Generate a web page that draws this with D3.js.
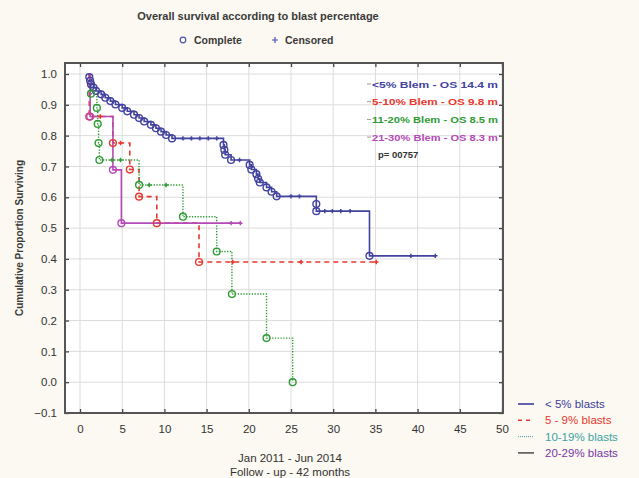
<!DOCTYPE html>
<html>
<head>
<meta charset="utf-8">
<script src="https://cdn.jsdelivr.net/npm/d3@7"></script>
<style>
  body { margin: 0; background: #fbf9f1; }
  text { font-family: "Liberation Sans", Arial, sans-serif; }
</style>
</head>
<body>
<script>
const width = 639
const height = 478

// survival data: [months, proportion] at each complete event
const blueEvents = [[1.1, 0.99], [1.2, 0.978], [1.3, 0.967], [1.6, 0.956], [1.9, 0.945], [2.5, 0.934],
  [3.0, 0.923], [3.6, 0.912], [4.2, 0.901], [5.0, 0.89], [5.6, 0.879], [6.4, 0.868], [7.0, 0.857],
  [7.6, 0.846], [8.4, 0.835], [9.0, 0.824], [9.6, 0.813], [10.2, 0.802], [10.9, 0.791],
  [17.0, 0.77], [17.1, 0.754], [17.2, 0.738], [17.9, 0.721],
  [20.1, 0.705], [20.3, 0.69], [20.9, 0.675], [21.1, 0.66], [21.3, 0.648], [22.1, 0.632], [22.7, 0.618], [23.3, 0.603],
  [28.0, 0.578], [28.0, 0.555], [34.3, 0.41]]
const blueCensored = [12.2, 13.2, 14.2, 15.2, 16.2, 18.9, 25.0, 26.0, 29.0, 29.9, 30.9, 32.0, 39.2, 42.1]

const redEvents = [[1.1, 0.862], [3.9, 0.776], [5.9, 0.69], [7.0, 0.602], [9.1, 0.516], [14.1, 0.39]]
const redCensored = [2.4, 4.8, 18.1, 26.2, 35.1]

const greenEvents = [[1.3, 0.936], [2.0, 0.89], [2.1, 0.838], [2.2, 0.776], [2.3, 0.721], [7.0, 0.64],
  [12.2, 0.537], [16.2, 0.424], [18.0, 0.286], [22.1, 0.143], [25.2, 0.0]]
const greenCensored = [3.8, 4.8, 8.2, 10.2]

const purpleEvents = [[1.2, 0.862], [3.9, 0.689], [4.9, 0.516]]
const purpleCensored = [17.9, 19.0]

const groupNames = ['<5% Blem  -  OS 14.4 m', '5-10% Blem  -  OS 9.8 m', '11-20% Blem  -  OS 8.5 m', '21-30% Blem  -  OS 8.3 m']
const groupColors = ['#42429f', '#e8372c', '#2f9a35', '#b44ab8']
const pValue = 'p= 00757'

const legendNames = ['< 5% blasts', '5 - 9% blasts', '10-19% blasts', '20-29% blasts']
const legendColors = ['#3d3d9c', '#e8372c', '#3aa3a3', '#7a34a8']

const xTicks = [0, 5, 10, 15, 20, 25, 30, 35, 40, 45, 50]
const yTicks = [-0.1, 0, 0.1, 0.2, 0.3, 0.4, 0.5, 0.6, 0.7, 0.8, 0.9, 1.0]

const frame = {left: 65, right: 503, top: 63, bottom: 413}

const x = d3.scaleLinear().domain([0, 50]).range([80, 502])
const y = d3.scaleLinear().domain([-0.1, 1.0]).range([413, 74])

const svg = d3.select('body').append('svg')
  .attr('width', width)
  .attr('height', height)

svg.append('rect')
  .attr('x', frame.left).attr('y', frame.top)
  .attr('width', frame.right - frame.left).attr('height', frame.bottom - frame.top)
  .attr('fill', '#ffffff')

// grid
svg.append('g').selectAll('line').data(xTicks).join('line')
  .attr('x1', d => x(d)).attr('x2', d => x(d))
  .attr('y1', frame.top).attr('y2', frame.bottom)
  .attr('stroke', '#dcdcdc').attr('stroke-width', 1)
svg.append('g').selectAll('line').data(yTicks).join('line')
  .attr('x1', frame.left).attr('x2', frame.right)
  .attr('y1', d => y(d)).attr('y2', d => y(d))
  .attr('stroke', '#dcdcdc').attr('stroke-width', 1)

// axes
const xAxis = svg.append('g')
  .attr('transform', `translate(0,${frame.bottom})`)
  .call(d3.axisBottom(x).tickValues(xTicks).tickSize(-4).tickPadding(12))
const xAxisTop = svg.append('g')
  .attr('transform', `translate(0,${frame.top})`)
  .call(d3.axisTop(x).tickValues(xTicks).tickSize(-4).tickFormat(''))
const yAxis = svg.append('g')
  .attr('transform', `translate(${frame.left},0)`)
  .call(d3.axisLeft(y).tickValues(yTicks).tickSize(-4).tickPadding(8).tickFormat(d3.format('.1f')))
const yAxisRight = svg.append('g')
  .attr('transform', `translate(${frame.right},0)`)
  .call(d3.axisRight(y).tickValues(yTicks).tickSize(-4).tickFormat(''))

;[xAxis, xAxisTop, yAxis, yAxisRight].forEach(g => {
  g.select('.domain').remove()
  g.selectAll('.tick line').attr('stroke', '#444').attr('stroke-width', 1.3)
  g.selectAll('.tick text').attr('fill', '#333').attr('font-size', 11.5)
})

svg.append('rect')
  .attr('x', frame.left).attr('y', frame.top)
  .attr('width', frame.right - frame.left).attr('height', frame.bottom - frame.top)
  .attr('fill', 'none').attr('stroke', '#555').attr('stroke-width', 2)

// curves
const groups = [
  {events: blueEvents, censored: blueCensored, color: groupColors[0], dash: null, width: 1.6},
  {events: redEvents, censored: redCensored, color: groupColors[1], dash: '5,4', width: 1.6},
  {events: greenEvents, censored: greenCensored, color: groupColors[2], dash: '1.3,1.5', width: 1.4},
  {events: purpleEvents, censored: purpleCensored, color: groupColors[3], dash: null, width: 1.6}
]

function survivalAt(events, t) {
  let s = 1
  events.forEach(e => { if (e[0] <= t) s = e[1] })
  return s
}

const line = d3.line().x(d => x(d[0])).y(d => y(d[1])).curve(d3.curveStepAfter)

groups.forEach(g => {
  const last = g.events[g.events.length - 1]
  const end = Math.max(last[0], d3.max(g.censored))
  const pts = [[g.events[0][0], 1.0]].concat(g.events).concat([[end, survivalAt(g.events, end)]])
  svg.append('path')
    .attr('d', line(pts))
    .attr('fill', 'none')
    .attr('stroke', g.color)
    .attr('stroke-width', g.width)
    .attr('stroke-dasharray', g.dash)
})

groups.forEach(g => {
  svg.append('g').selectAll('circle').data(g.events).join('circle')
    .attr('cx', d => x(d[0])).attr('cy', d => y(d[1]))
    .attr('r', 3.4)
    .attr('fill', 'none')
    .attr('stroke', g.color).attr('stroke-width', 1.4)
  svg.append('g').selectAll('path').data(g.censored).join('path')
    .attr('d', d => {
      const cx = x(d), cy = y(survivalAt(g.events, d))
      return `M${cx - 2.2},${cy}H${cx + 2.2}M${cx},${cy - 2.2}V${cy + 2.2}`
    })
    .attr('stroke', g.color).attr('stroke-width', 1.5)
})

// titles
svg.append('text')
  .attr('x', 258).attr('y', 20)
  .attr('text-anchor', 'middle')
  .attr('font-size', 11).attr('font-weight', 'bold').attr('fill', '#3a3a3a')
  .text('Overall survival according to blast percentage')

svg.append('circle').attr('cx', 183).attr('cy', 40).attr('r', 2.8)
  .attr('fill', 'none').attr('stroke', '#5050b0').attr('stroke-width', 1.2)
svg.append('text').attr('x', 194).attr('y', 44)
  .attr('font-size', 10.5).attr('font-weight', 'bold').attr('fill', '#3a3a3a')
  .text('Complete')
svg.append('path').attr('d', 'M272,40H278M275,37V43').attr('stroke', '#5050b0').attr('stroke-width', 1.2)
svg.append('text').attr('x', 285).attr('y', 44)
  .attr('font-size', 10.5).attr('font-weight', 'bold').attr('fill', '#3a3a3a')
  .text('Censored')

svg.append('text')
  .attr('transform', 'translate(23,238) rotate(-90)')
  .attr('text-anchor', 'middle')
  .attr('font-size', 10).attr('font-weight', 'bold').attr('fill', '#3a3a3a')
  .text('Cumulative Proportion Surviving')

svg.append('text').attr('x', 290).attr('y', 462).attr('text-anchor', 'middle')
  .attr('font-size', 11.5).attr('fill', '#333').text('Jan 2011 - Jun 2014')
svg.append('text').attr('x', 290).attr('y', 476).attr('text-anchor', 'middle')
  .attr('font-size', 11.5).attr('fill', '#333').text('Follow - up - 42 months')

// in-plot legend
const inLegend = svg.append('g')
groupNames.forEach((name, i) => {
  const yy = 84 + i * 17.7
  inLegend.append('line').attr('x1', 367).attr('x2', 371).attr('y1', yy).attr('y2', yy)
    .attr('stroke', '#999').attr('stroke-width', 1)
  inLegend.append('text').attr('x', 372).attr('y', yy + 3.5)
    .attr('font-size', 9).attr('font-weight', 'bold').attr('fill', groupColors[i])
    .attr('textLength', 126).attr('lengthAdjust', 'spacingAndGlyphs')
    .text(name)
})
inLegend.append('text').attr('x', 378).attr('y', 158)
  .attr('font-size', 9.5).attr('font-weight', 'bold').attr('fill', '#333')
  .text(pValue)

// bottom-right legend
const legend = svg.append('g')
legendNames.forEach((name, i) => {
  const yy = 404 + i * 16.3
  legend.append('line').attr('x1', 518).attr('x2', 534).attr('y1', yy).attr('y2', yy)
    .attr('stroke', i === 3 ? '#555' : legendColors[i]).attr('stroke-width', i === 2 ? 1 : 1.6)
    .attr('stroke-dasharray', i === 1 ? '4,4' : i === 2 ? '1,1' : null)
  legend.append('text').attr('x', 545).attr('y', yy + 4)
    .attr('font-size', 11.5).attr('fill', legendColors[i])
    .text(name)
})
</script>
</body>
</html>
